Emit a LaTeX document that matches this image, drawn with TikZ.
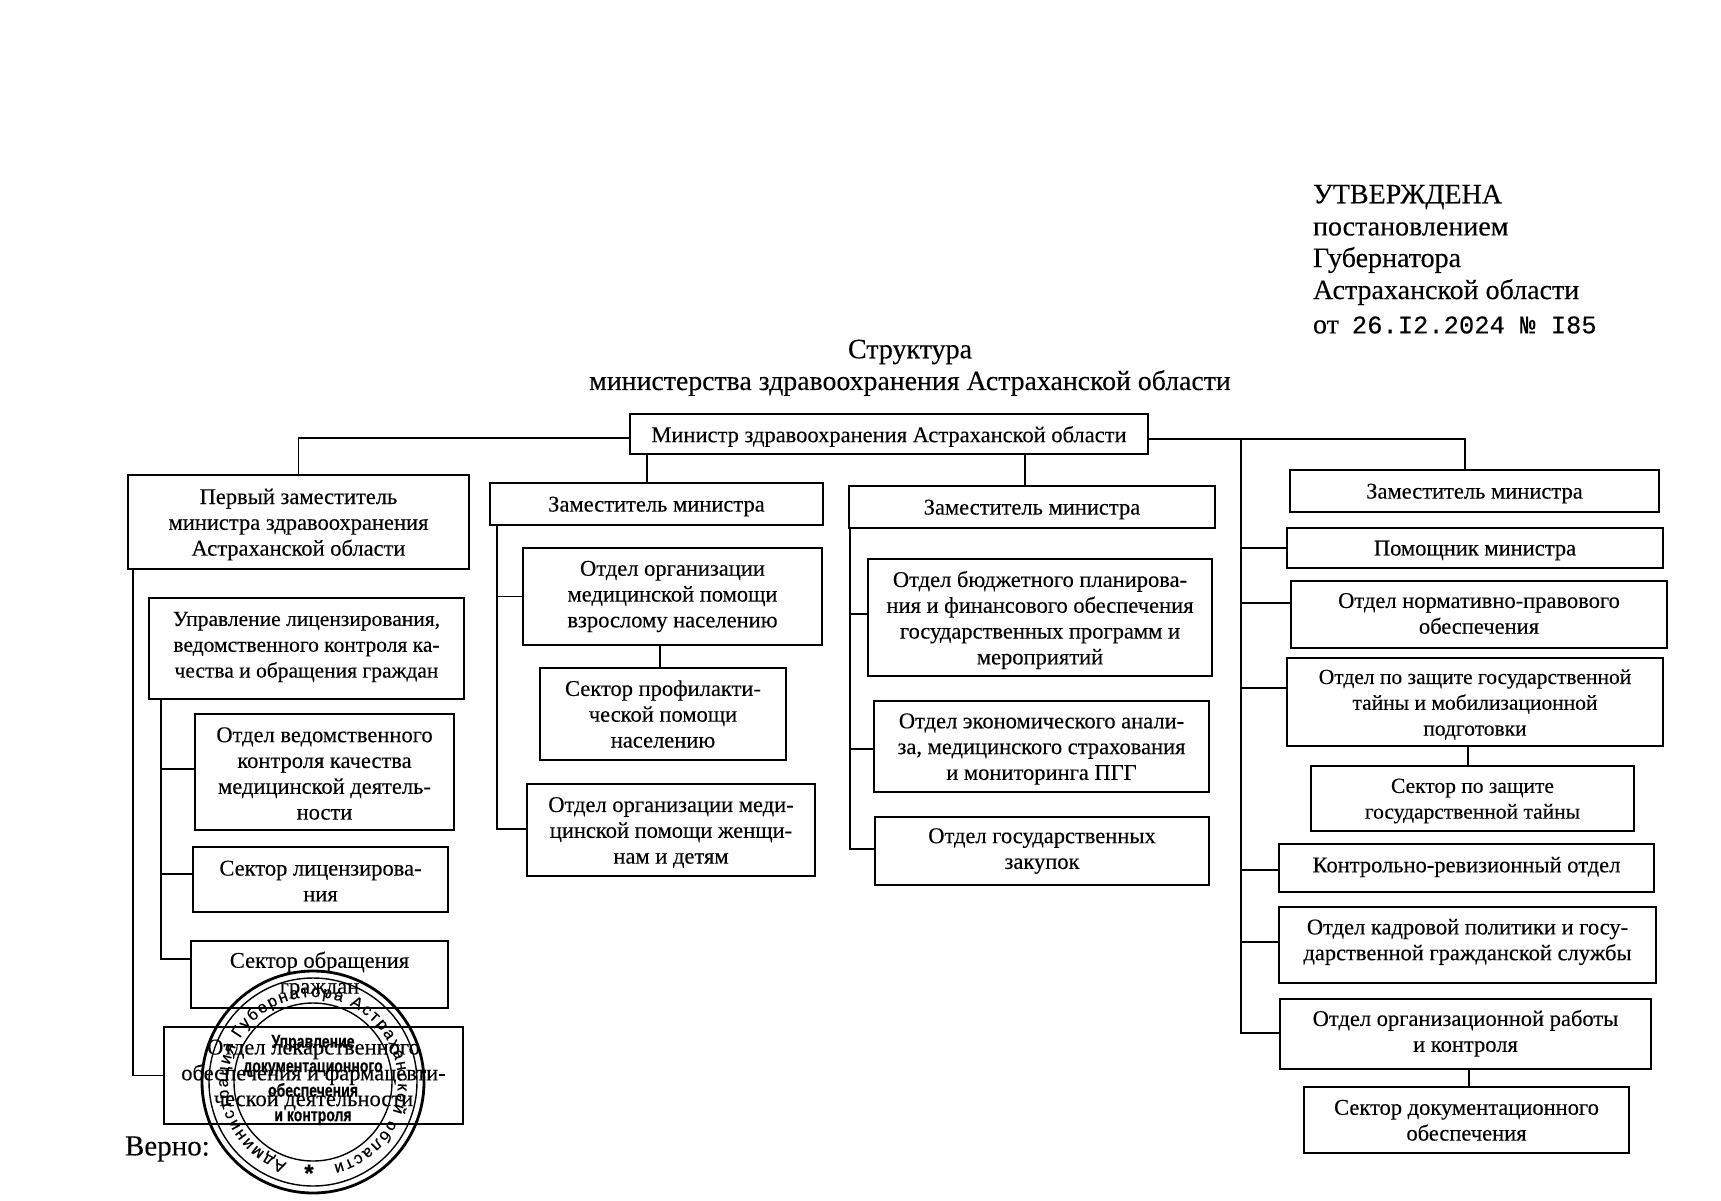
\documentclass[tikz,border=0pt]{standalone}
\usepackage{fontspec}
\setmainfont{Liberation Serif}[FakeBold=0.2]
\newfontfamily\stampsans{Liberation Sans}[FakeBold=0.4]
\newfontfamily\stampmono{Liberation Mono}[FakeBold=0.3]
\usetikzlibrary{decorations.text}
\tikzset{
  boxn/.style={draw=black,line width=1.8pt,inner sep=0pt,outer sep=0pt},
  bodyt/.style={inner sep=0pt,outer sep=0pt,align=center,font=\fontsize{22.5}{25.8}\selectfont},
  conn/.style={draw=black,line width=1.5pt},
  plain/.style={inner sep=0pt,outer sep=0pt},
  ring/.style={draw=black},
}
\newcommand{\tight}{\fontsize{21.5}{25.8}\selectfont}
\newcommand{\bx}[6][-2.5]{%
  \pgfmathsetmacro{\cxx}{(#3+#5)/2}\pgfmathsetmacro{\cyy}{(#4+#6)/2}%
  \pgfmathsetmacro{\www}{#5-#3}\pgfmathsetmacro{\hhh}{#6-#4}%
  \node[boxn,minimum width=\www pt,minimum height=\hhh pt] (#2) at (\cxx,\cyy) {};
  \def\bxname{#2}\def\bxdy{#1}\bxtext}
\newcommand{\bxtext}[1]{\node[bodyt] (\bxname t) at ([yshift=\bxdy pt]\bxname.center) {#1};}
\begin{document}
\begin{tikzpicture}[x=1pt,y=-1pt]
\useasboundingbox (0,0) rectangle (1721,1200);
\fill[white] (0,0) rectangle (1721,1200);
% header
\node[plain,anchor=west,font=\fontsize{28}{30}\selectfont] (appr) at (1313,197) {УТВЕРЖДЕНА};
\node[plain,anchor=west,font=\fontsize{28}{30}\selectfont] (appr2) at (1313,229) {постановлением};
\node[plain,anchor=west,font=\fontsize{28}{30}\selectfont] (appr3) at (1313,260) {Губернатора};
\node[plain,anchor=west,font=\fontsize{28}{30}\selectfont] (appr4) at (1313,292) {Астраханской области};
\node[plain,anchor=west,font=\fontsize{28}{30}\selectfont] (appr5) at (1313,325) {от\hspace{13pt}{\stampmono\fontsize{25.5}{28}\selectfont 26.I2.2024 № I85}};
\node[plain,font=\fontsize{28}{30}\selectfont] (tit1) at (910,352) {Структура};
\node[plain,font=\fontsize{27.8}{30}\selectfont] (tit2) at (910,383) {министерства здравоохранения Астраханской области};
% boxes
\bx{min}{630}{414}{1148}{454}{Министр здравоохранения Астраханской области}
\bx{first}{128}{475}{469}{569}{Первый заместитель\\министра здравоохранения\\Астраханской области}
\bx[1.5]{upr}{149}{598}{464}{699}{\tight Управление лицензирования,\\\tight ведомственного контроля ка-\\\tight чества и обращения граждан}
\bx[-1.5]{ved}{195}{714}{454}{830}{Отдел ведомственного\\контроля качества\\медицинской деятель-\\ности}
\bx[-1.5]{lic}{193}{847}{448}{912}{Сектор лицензирова-\\ния}
\bx[-0.5]{obr}{191}{941}{448}{1008}{Сектор обращения\\граждан}
\bx[0.5]{lek}{164}{1027}{463}{1124}{Отдел лекарственного\\обеспечения и фармацевти-\\ческой деятельности}
\bx{zam1}{490}{483}{823}{525}{Заместитель министра}
\bx[0]{vzr}{523}{548}{822}{645}{Отдел организации\\медицинской помощи\\взрослому населению}
\bx[0]{prof}{540}{668}{786}{760}{Сектор профилакти-\\ческой помощи\\населению}
\bx{zhen}{527}{784}{815}{876}{Отдел организации меди-\\цинской помощи женщи-\\нам и детям}
\bx{zam2}{849}{486}{1215}{528}{Заместитель министра}
\bx{bud}{868}{559}{1212}{676}{Отдел бюджетного планирова-\\ния и финансового обеспечения\\государственных программ и\\мероприятий}
\bx{eko}{874}{701}{1209}{792}{Отдел экономического анали-\\за, медицинского страхования\\и мониторинга ПГГ}
\bx[0]{zak}{875}{817}{1209}{885}{Отдел государственных\\закупок}
\bx{zam3}{1290}{470}{1659}{512}{Заместитель министра}
\bx{pom}{1287}{528}{1663}{568}{Помощник министра}
\bx[1]{nor}{1291}{581}{1667}{648}{Отдел нормативно-правового\\обеспечения}
\bx{gos}{1287}{658}{1663}{746}{\tight Отдел по защите государственной\\\tight тайны и мобилизационной\\\tight подготовки}
\bx{sgt}{1311}{766}{1634}{831}{\tight Сектор по защите\\\tight государственной тайны}
\bx[1]{kon}{1279}{844}{1654}{892}{Контрольно-ревизионный отдел}
\bx[3]{kad}{1279}{907}{1656}{983}{Отдел кадровой политики и госу-\\дарственной гражданской службы}
\bx[0.8]{org}{1280}{999}{1651}{1069}{Отдел организационной работы\\и контроля}
\bx[-0.3]{sdo}{1304}{1087}{1629}{1153}{Сектор документационного\\обеспечения}
% free coordinates of the trunks
\coordinate (tLeft) at (133,0);
\coordinate (tUpr) at (161,0);
\coordinate (tZ1) at (497,0);
\coordinate (tZ2) at (850,0);
\coordinate (tR) at (1241,0);
% connectors
\draw[conn] (min.west |- 0,438) -| (first.north);
\draw[conn] (first.south -| tLeft) |- (lek.west);
\draw[conn] (upr.south -| tUpr) |- (obr.west |- 0,959);
\draw[conn] (ved.west |- 0,769) -- (tUpr |- 0,769);
\draw[conn] (lic.west |- 0,874) -- (tUpr |- 0,874);
\draw[conn] (min.south -| 647,0) -- (zam1.north -| 647,0);
\draw[conn] (zam1.south -| tZ1) |- (zhen.west |- 0,829);
\draw[conn] (vzr.west) -- (vzr.west -| tZ1);
\draw[conn] (vzr.south -| 660,0) -- (prof.north -| 660,0);
\draw[conn] (min.south -| 1025,0) -- (zam2.north -| 1025,0);
\draw[conn] (zam2.south -| tZ2) |- (zak.west |- 0,849);
\draw[conn] (bud.west |- 0,614) -- (tZ2 |- 0,614);
\draw[conn] (eko.west |- 0,749) -- (tZ2 |- 0,749);
\draw[conn] (min.east |- 0,439) -| (zam3.north -| 1465,0);
\draw[conn] (tR |- 0,439) |- (org.west |- 0,1033);
\draw[conn] (pom.west) -- (pom.west -| tR);
\draw[conn] (nor.west |- 0,603) -- (tR |- 0,603);
\draw[conn] (gos.west |- 0,688) -- (tR |- 0,688);
\draw[conn] (kon.west |- 0,870) -- (tR |- 0,870);
\draw[conn] (kad.west |- 0,942) -- (tR |- 0,942);
\draw[conn] (gos.south -| 1468,0) -- (sgt.north -| 1468,0);
\draw[conn] (org.south -| 1469,0) -- (sdo.north -| 1469,0);
\node[plain,anchor=west,font=\fontsize{29}{30}\selectfont] (verno) at (125,1149) {Верно:};
% stamp
\begin{scope}[shift={(313,1082)},x=1pt,y=1pt]
\coordinate (stampc) at (0,0);
\draw[ring,line width=2.8pt] (stampc) circle[radius=111];
\draw[ring,line width=1.4pt] (stampc) circle[radius=104];
\draw[ring,line width=1.4pt] (stampc) circle[radius=79];
\path[decorate,decoration={text along path,text align=fit to path,
   text={|\stampsans\fontsize{16.5}{17}\selectfont|Администрация Губернатора Астраханской области}}]
   (-108:85) arc[start angle=252,end angle=-76,radius=85];
\node[plain,font=\stampsans\bfseries\fontsize{24}{24}\selectfont] (stampstar) at (-4,-91) {*};
\node[plain,align=center,font=\stampsans\bfseries\fontsize{18.5}{24.5}\selectfont,xscale=0.76] (stamptxt) at (0,2) {Управление\\документационного\\обеспечения\\и контроля};
\end{scope}
\end{tikzpicture}
\end{document}
